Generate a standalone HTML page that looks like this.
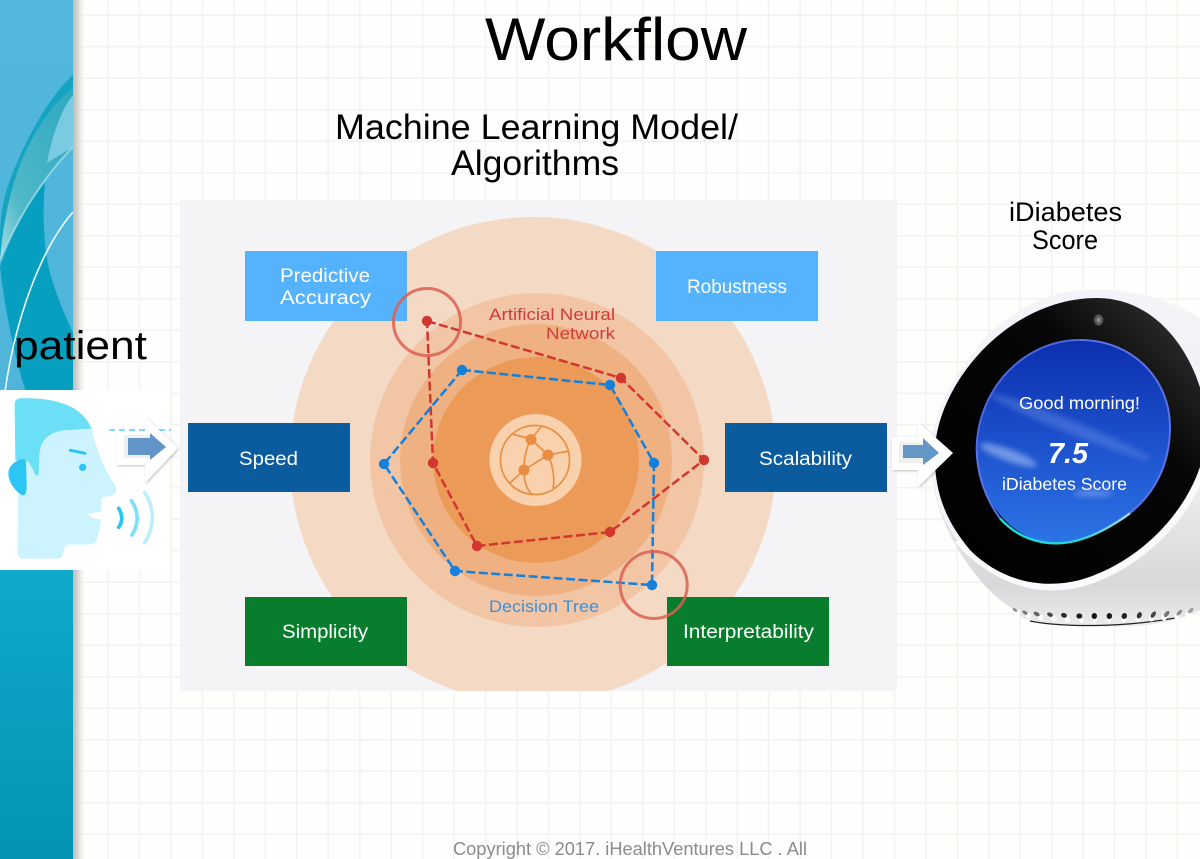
<!DOCTYPE html>
<html><head><meta charset="utf-8"><title>Workflow</title>
<style>
html,body{margin:0;padding:0;width:1200px;height:859px;overflow:hidden;background:#fefefc}
svg{display:block;position:absolute;left:0;top:0}
#grid{position:absolute;left:0;top:0;width:1200px;height:859px;
background-image:linear-gradient(to right,#f3f2ee 0,#f3f2ee 1.5px,transparent 1.5px),linear-gradient(to bottom,#f3f2ee 0,#f3f2ee 1.5px,transparent 1.5px);
background-size:31.46px 31.5px;background-position:13px 14.5px}
text{font-family:"Liberation Sans",sans-serif}
</style></head><body>
<div id="grid"></div>
<svg width="1200" height="859" viewBox="0 0 1200 859" xmlns="http://www.w3.org/2000/svg">
<defs>
<linearGradient id="side" x1="0" y1="0" x2="0" y2="1"><stop offset="0" stop-color="#52b6dd"/><stop offset=".45" stop-color="#4fb5da"/><stop offset=".66" stop-color="#11a9cb"/><stop offset="1" stop-color="#0394b5"/></linearGradient>
<linearGradient id="shadow" x1="0" y1="0" x2="1" y2="0"><stop offset="0" stop-color="#bdbcb6"/><stop offset=".35" stop-color="#d8d7d2"/><stop offset="1" stop-color="#fefefc" stop-opacity="0"/></linearGradient>
<linearGradient id="sweep" x1="1" y1="0" x2="0" y2="1"><stop offset="0" stop-color="#2fa9c0"/><stop offset=".7" stop-color="#4fb8c8"/><stop offset="1" stop-color="#9edbe4"/></linearGradient>
<linearGradient id="sky" x1="0" y1="0" x2="0" y2="1"><stop offset="0" stop-color="#0c2fae"/><stop offset=".5" stop-color="#1c50cc"/><stop offset="1" stop-color="#2c74e6"/></linearGradient>
<linearGradient id="body" x1="0" y1="0" x2="0" y2="1"><stop offset="0" stop-color="#f4f4f8"/><stop offset=".55" stop-color="#efeff1"/><stop offset=".88" stop-color="#d8d8da"/><stop offset="1" stop-color="#ececec"/></linearGradient>
<linearGradient id="face" x1="0" y1="1" x2="1" y2="0"><stop offset="0" stop-color="#000"/><stop offset=".65" stop-color="#060606"/><stop offset="1" stop-color="#3a3a3a"/></linearGradient>
<linearGradient id="rim" x1="0" y1="0" x2="1" y2="0"><stop offset="0" stop-color="#19e0e0"/><stop offset=".6" stop-color="#20d4d8"/><stop offset="1" stop-color="#a9d8ee"/></linearGradient>
<filter id="blur" x="-40%" y="-100%" width="180%" height="300%"><feGaussianBlur stdDeviation="9"/></filter>
<filter id="as" x="-20%" y="-20%" width="150%" height="150%"><feDropShadow dx="1" dy="1" stdDeviation="1.2" flood-color="#000" flood-opacity=".25"/></filter>
<clipPath id="panel"><rect x="180" y="200" width="717" height="491"/></clipPath>
<clipPath id="sc"><rect x="0" y="0" width="73" height="859"/></clipPath>
<clipPath id="scr"><path d="M600 180C760 180 870 300 870 440C870 560 820 650 730 715C660 765 590 790 530 790C400 790 290 660 290 510C290 330 430 180 600 180Z"/></clipPath>
</defs>

<!-- sidebar -->
<rect x="73" y="0" width="14" height="859" fill="url(#shadow)"/>
<rect x="0" y="0" width="73" height="859" fill="url(#side)"/>
<g clip-path="url(#sc)">
<path d="M73 75C50 95 25 140 10 180C4 195 0 215 0 240L0 260C15 222 45 175 73 147Z" fill="#15a3c2"/>
<path d="M73 88C45 110 22 150 12 190C6 210 2 235 0 260C15 222 45 175 73 147Z" fill="url(#sweep)"/>
<path d="M73 95C62 108 52 135 47 163C55 158 65 152 73 147Z" fill="#78cbe0"/>
<path d="M0 260C15 222 45 175 73 147" fill="none" stroke="#a8e2ea" stroke-width="2" opacity=".7"/>
<path d="M0 267C12 232 28 205 45 182C42 215 44 250 50 273C56 295 65 315 73 333L73 395L27 395C15 360 5 310 0 267Z" fill="#079fbf"/>
<path d="M73 212C40 250 15 320 5 392" stroke="#eef9fc" stroke-width="1.600" fill="none"/>
</g>

<!-- panel -->
<rect x="180" y="200" width="717" height="491" fill="#f4f4f6"/>
<g clip-path="url(#panel)">
<circle cx="533" cy="460" r="243" fill="#f4d9c5"/>
<circle cx="537" cy="460" r="167" fill="#f2c6a5"/>
<circle cx="536" cy="460" r="136" fill="#efb182"/>
<circle cx="536" cy="460" r="103" fill="#ec9a57"/>
<circle cx="535.5" cy="460" r="46" fill="#f9d1ad"/>
</g>

<!-- boxes -->
<rect x="245" y="251" width="162" height="70" fill="#55b2fd"/>
<rect x="656" y="251" width="162" height="70" fill="#55b2fd"/>
<rect x="188" y="423" width="162" height="69" fill="#0b5c9f"/>
<rect x="725" y="423" width="162" height="69" fill="#0b5c9f"/>
<rect x="245" y="597" width="162" height="69" fill="#087d2d"/>
<rect x="667" y="597" width="162" height="69" fill="#087d2d"/>
<g fill="#fff" font-size="19">
<text x="280" y="282" textLength="90" lengthAdjust="spacingAndGlyphs">Predictive</text>
<text x="280" y="304" textLength="91" lengthAdjust="spacingAndGlyphs">Accuracy</text>
<text x="687" y="293" textLength="100" lengthAdjust="spacingAndGlyphs">Robustness</text>
<text x="239" y="465" textLength="59" lengthAdjust="spacingAndGlyphs">Speed</text>
<text x="759" y="465" textLength="93" lengthAdjust="spacingAndGlyphs">Scalability</text>
<text x="282" y="638" textLength="86" lengthAdjust="spacingAndGlyphs">Simplicity</text>
<text x="683" y="638" textLength="131" lengthAdjust="spacingAndGlyphs">Interpretability</text>
</g>

<!-- network icon -->
<g fill="none" stroke="#e98f42" stroke-width="1.700">
<circle cx="535" cy="460" r="34.500"/>
<path d="M531 439L541 427M531 439L512 434M531 439L548 455L569 451M548 455L524 470L510 483M531 439C526 448 524 458 524 470C524 482 527 490 532 494M548 455C553 465 555 480 553 488"/>
</g>
<g fill="#ea8c42"><circle cx="531" cy="439.500" r="5.500"/><circle cx="548" cy="455" r="5.500"/><circle cx="524" cy="470" r="5.500"/></g>

<!-- series -->
<polygon points="427,321 621,378 704,460 610,532 477,546 433,463" fill="none" stroke="#d1362f" stroke-width="2.500" stroke-dasharray="9 3.500"/>
<polygon points="462,370 610,385 654,463 652,585 455,571 384,464" fill="none" stroke="#1380dc" stroke-width="2.500" stroke-dasharray="9 3.500"/>
<g fill="#d1362f"><circle cx="427" cy="321" r="5.200"/><circle cx="621" cy="378" r="5.200"/><circle cx="704" cy="460" r="5.200"/><circle cx="610" cy="532" r="5.200"/><circle cx="477" cy="546" r="5.200"/><circle cx="433" cy="463" r="5.200"/></g>
<g fill="#1380dc"><circle cx="462" cy="370" r="5.200"/><circle cx="610" cy="385" r="5.200"/><circle cx="654" cy="463" r="5.200"/><circle cx="652" cy="585" r="5.200"/><circle cx="455" cy="571" r="5.200"/><circle cx="384" cy="464" r="5.200"/></g>
<g fill="none" stroke="#dc5f50" stroke-width="3" stroke-opacity=".85"><circle cx="427" cy="322" r="33.500"/><circle cx="653.700" cy="585" r="33.500"/></g>
<g font-size="17">
<text x="489" y="320" fill="#cf3d39" textLength="126" lengthAdjust="spacingAndGlyphs">Artificial Neural</text>
<text x="546" y="339" fill="#cf3d39" textLength="69" lengthAdjust="spacingAndGlyphs">Network</text>
<text x="489" y="612" fill="#3d8fdb" textLength="110" lengthAdjust="spacingAndGlyphs">Decision Tree</text>
</g>

<!-- patient image -->
<rect x="0" y="390" width="170" height="180" fill="#fff"/>
<g transform="translate(0,320) scale(.3333)">
<path d="M55 320C55 300 50 250 50 250C55 240 65 235 75 235C150 235 245 250 275 325C290 390 310 440 345 495C355 510 345 525 330 528L305 532L304 575L262 582C270 592 285 597 303 598C300 625 295 650 288 665C280 675 260 675 205 674C195 676 192 690 188 705C184 714 175 716 165 716L68 716C58 716 53 708 53 698Z" fill="#cdf3fe"/>
<path d="M44 255C44 242 50 235 60 235C150 232 245 250 275 326L210 330C150 330 118 360 118 410L116 462C116 470 108 468 104 460C95 440 90 430 78 420L46 420Z" fill="#6adff5"/>
<path d="M78 420C60 412 40 425 28 445C18 470 35 505 65 525C78 530 80 515 80 495Z" fill="#2cc6f5"/>
<path d="M211 391L255 400" stroke="#2cc6f5" stroke-width="9" stroke-linecap="round"/>
<circle cx="248" cy="442" r="11" fill="#2cc6f5"/>
<g fill="none" stroke-linecap="round">
<path d="M356 565C368 585 368 605 356 622" stroke="#2cc6f5" stroke-width="11"/>
<path d="M394 542C417 575 417 612 396 645" stroke="#7be0f8" stroke-width="11"/>
<path d="M434 518C465 565 465 620 434 668" stroke="#bdeefc" stroke-width="11"/>
</g>
</g>
<line x1="109" y1="430" x2="171" y2="430" stroke="#54d2f5" stroke-width="1.500" stroke-dasharray="6 4"/>

<!-- arrow 1 -->
<g filter="url(#as)"><polygon points="117,432 145,432 145,417 178,448 145,483 145,465 117,465" fill="#fff"/></g>
<polygon points="124,435 150,435 150,458 124,458" fill="#f0f0f0"/>
<polygon points="128,438 150,438 150,433 166,447 150,460 150,455 128,455" fill="#6394c8"/>

<!-- device -->
<path d="M932 470C932 520 975 585 1010 607L1023 618C1060 628 1110 628 1147 625C1170 622 1185 618 1200 610L1200 318C1170 300 1130 288 1090 290C1000 290 935 380 932 470Z" fill="url(#body)"/>
<path d="M1030 621C1060 627 1120 628 1175 618" fill="none" stroke="#222" stroke-width="1.200"/>
<path d="M935 447C940 380 1010 298 1097 298C1160 298 1200 360 1207 420C1210 490 1150 560 1080 580C1040 590 1000 580 970 550C945 520 933 490 935 447Z" fill="#f3f3f9" stroke="#f3f3f9" stroke-width="8"/>
<path d="M960 538C1000 580 1040 590 1080 580C1150 560 1210 490 1207 420" fill="none" stroke="#fafafc" stroke-width="14"/>
<path d="M935 447C940 380 1010 298 1097 298C1160 298 1200 360 1207 420C1210 490 1150 560 1080 580C1040 590 1000 580 970 550C945 520 933 490 935 447Z" fill="url(#face)"/>
<g transform="translate(880,280) scale(.3333)">
<path d="M600 180C760 180 870 300 870 440C870 560 820 650 730 715C660 765 590 790 530 790C400 790 290 660 290 510C290 330 430 180 600 180Z" fill="url(#sky)"/>
<g clip-path="url(#scr)">
<ellipse cx="385" cy="525" rx="90" ry="18" transform="rotate(20 385 525)" fill="#a8c4f4" opacity=".6" filter="url(#blur)"/>
<ellipse cx="570" cy="440" rx="260" ry="20" transform="rotate(22 570 440)" fill="#6f95ea" opacity=".4" filter="url(#blur)"/>
<ellipse cx="640" cy="640" rx="60" ry="10" fill="#a9c4f5" opacity=".45" filter="url(#blur)"/>
</g>
<path d="M600 180C760 180 870 300 870 440C870 560 820 650 730 715" fill="none" stroke="#5d72e6" stroke-width="6"/>
<path d="M290 510C290 330 430 180 600 180" fill="none" stroke="#5167de" stroke-width="6"/>
<path d="M290 510C292 590 320 660 360 715" fill="none" stroke="#5d72e6" stroke-width="6"/>
<path d="M360 715C410 770 470 790 530 790C590 790 660 765 750 700" fill="none" stroke="url(#rim)" stroke-width="7"/>
<ellipse cx="656" cy="120" rx="14" ry="17" fill="#55565a"/>
<ellipse cx="656" cy="120" rx="6" ry="8" fill="#8b8c90"/>
</g>
<g transform="translate(980,540) scale(.3333)">
<g fill="#fff">
<ellipse cx="112" cy="218" rx="8" ry="9"/><ellipse cx="145" cy="227" rx="8" ry="9"/><ellipse cx="182" cy="232" rx="8" ry="9"/><ellipse cx="222" cy="236" rx="8" ry="9"/><ellipse cx="262" cy="238" rx="8" ry="9"/><ellipse cx="304" cy="240" rx="7" ry="8"/><ellipse cx="345" cy="240" rx="6" ry="8"/><ellipse cx="388" cy="240" rx="6" ry="8"/><ellipse cx="431" cy="240" rx="7" ry="8"/><ellipse cx="474" cy="238" rx="8" ry="8"/><ellipse cx="514" cy="236" rx="8" ry="9"/><ellipse cx="552" cy="233" rx="8" ry="9"/><ellipse cx="590" cy="229" rx="8" ry="9"/><ellipse cx="625" cy="223" rx="8" ry="9"/>
</g>
<g>
<ellipse cx="105" cy="210" rx="8" ry="4" transform="rotate(35 105 210)" fill="#8a8a8c"/>
<ellipse cx="135" cy="218" rx="9" ry="5" transform="rotate(35 135 218)" fill="#77777a"/>
<ellipse cx="170" cy="222" rx="10" ry="6" transform="rotate(30 170 222)" fill="#666"/>
<ellipse cx="210" cy="224" rx="9" ry="6" transform="rotate(25 210 224)" fill="#444"/>
<ellipse cx="252" cy="226" rx="9" ry="7" transform="rotate(20 252 226)" fill="#2a2a2a"/>
<ellipse cx="298" cy="228" rx="9" ry="8" fill="#1c1c1c"/>
<ellipse cx="343" cy="228" rx="8" ry="9" fill="#111"/>
<ellipse cx="388" cy="228" rx="8" ry="9" fill="#111"/>
<ellipse cx="433" cy="228" rx="8" ry="9" transform="rotate(20 433 228)" fill="#222"/>
<ellipse cx="478" cy="226" rx="7" ry="10" transform="rotate(25 478 226)" fill="#333"/>
<ellipse cx="520" cy="224" rx="6" ry="11" transform="rotate(35 520 224)" fill="#444"/>
<ellipse cx="560" cy="222" rx="6" ry="11" transform="rotate(40 560 222)" fill="#777"/>
<ellipse cx="598" cy="218" rx="5" ry="11" transform="rotate(45 598 218)" fill="#8a8a8c"/>
<ellipse cx="632" cy="212" rx="5" ry="10" transform="rotate(45 632 212)" fill="#9a9a9c"/>
</g>
</g>

<!-- arrow 2 -->
<g filter="url(#as)"><polygon points="892,437 918,437 918,422 953,453 918,487 918,470 892,470" fill="#fff"/></g>
<polygon points="899,442 926,442 926,463 899,463" fill="#f0f0f0"/>
<polygon points="903,445 923,445 923,438 939,453 923,465 923,458 903,458" fill="#6497c6"/>
<g fill="#fff">
<text x="1019" y="409" font-size="17.500" textLength="121" lengthAdjust="spacingAndGlyphs">Good morning!</text>
<text x="1048" y="463" font-size="29" font-weight="700" font-style="italic" textLength="40" lengthAdjust="spacingAndGlyphs">7.5</text>
<text x="1002" y="490" font-size="17.500" textLength="125" lengthAdjust="spacingAndGlyphs">iDiabetes Score</text>
</g>

<!-- headings -->
<g fill="#000">
<text x="485" y="60" font-size="60" textLength="262" lengthAdjust="spacingAndGlyphs">Workflow</text>
<text x="335" y="139" font-size="35" textLength="403" lengthAdjust="spacingAndGlyphs">Machine Learning Model/</text>
<text x="451" y="175" font-size="35" textLength="168" lengthAdjust="spacingAndGlyphs">Algorithms</text>
<text x="1009" y="221" font-size="27" textLength="113" lengthAdjust="spacingAndGlyphs">iDiabetes</text>
<text x="1032" y="249" font-size="27" textLength="66" lengthAdjust="spacingAndGlyphs">Score</text>
<text x="14" y="359" font-size="40" textLength="133" lengthAdjust="spacingAndGlyphs">patient</text>
</g>
<text x="453" y="855" font-size="18" fill="#8b8b8b" textLength="354" lengthAdjust="spacingAndGlyphs">Copyright © 2017. iHealthVentures LLC . All</text>
</svg>
</body></html>
